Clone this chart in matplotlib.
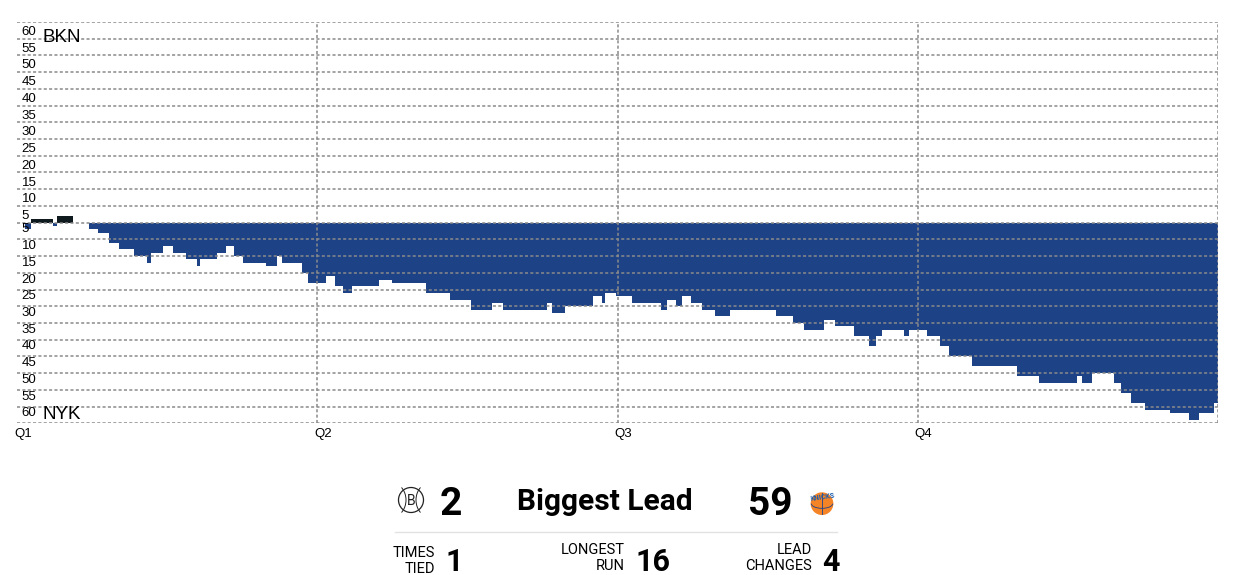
import matplotlib
matplotlib.use("Agg")
import matplotlib.pyplot as plt
from matplotlib.patches import Circle, Arc
import numpy as np

# game clock (minutes elapsed) where the margin changes, and the margin from then on
# positive = BKN lead, negative = NYK lead
minutes = [0, 0.32, 0.56, 1.43, 1.59, 2.23, 2.88, 3.25, 3.69, 4.09, 4.68,
           5.21, 5.34, 5.82, 6.22, 6.75, 7.18, 7.31, 7.99, 8.35, 8.67,
           9.03, 9.95, 10.39, 10.58, 11.39, 11.63, 12.35, 12.71, 13.03, 13.39,
           14.47, 14.99, 16.35, 17.31, 18.15, 18.98, 19.42, 21.18, 21.38, 21.90,
           23.02, 23.38, 23.50, 23.94, 24.58, 25.74, 25.98, 26.34, 26.58, 26.94,
           27.38, 27.90, 28.50, 30.34, 31.02, 31.45, 32.25, 32.69, 33.45, 34.05,
           34.33, 34.57, 35.45, 35.65, 36.37, 36.89, 37.25, 38.17, 39.97, 40.85,
           42.37, 42.57, 42.97, 43.84, 44.12, 44.52, 45.08, 46.08, 46.84, 47.24,
           47.84, 48.0]
margin = [0, -2, 1, -1, 2, 0, -2, -3, -6, -8, -10,
          -12, -9, -7, -9, -11, -13, -11, -9, -7, -10,
          -12, -13, -10, -12, -15, -18, -16, -19, -21, -19,
          -17, -18, -21, -23, -26, -24, -26, -24, -27, -25,
          -22, -24, -21, -22, -24, -26, -23, -25, -22, -24,
          -26, -28, -26, -28, -30, -32, -29, -31, -34, -37,
          -34, -32, -34, -32, -34, -37, -40, -43, -46, -48,
          -46, -48, -45, -48, -51, -54, -56, -57, -59, -57,
          -54, -54]

teams = ['BKN', 'NYK']
quarters = ['Q1', 'Q2', 'Q3', 'Q4']
quarter_start = [0, 12, 24, 36]
y_ticks = [5, 10, 15, 20, 25, 30, 35, 40, 45, 50, 55, 60]

biggest_lead = [2, 59]
times_tied = 1
longest_run = 16
lead_changes = 4

BLUE = '#1e4286'
DARK = '#0e1a1e'
GRID = '#8a8a8a'

W, H = 1235, 575
fig = plt.figure(figsize=(W / 100, H / 100), dpi=100)


def fx(x):
    return x / W


def fy(y):
    return 1 - y / H


ax = fig.add_axes([fx(17), fy(423.3), fx(1218) - fx(17), fy(22) - fy(423.3)])
t = np.array(minutes)
m = np.array(margin)
ax.fill_between(t, np.maximum(m, 0), 0, step='post', color=DARK, lw=0, zorder=1)
ax.fill_between(t, np.minimum(m, 0), 0, step='post', color=BLUE, lw=0, zorder=1)
ax.set_xlim(0, 48)
ax.set_ylim(-60, 60)
for s in ax.spines.values():
    s.set_visible(False)
ax.set_xticks([])
ax.set_yticks([])

dash = (0, (2.0, 1.5))
for v in range(-60, 61, 5):
    ax.axhline(v, color=GRID, lw=1.1, ls=dash, zorder=3)
for q in quarter_start[1:] + [48]:
    ax.axvline(q, color=GRID, lw=1.1, ls=dash, zorder=3)

ytr = ax.get_yaxis_transform()
for v in y_ticks:
    ax.text(0.004, v - 3, str(v), transform=ytr, fontsize=9.5, va='center',
            ha='left', family='Liberation Sans', zorder=4)
    ax.text(0.004, -(v - 3), str(v), transform=ytr, fontsize=9.5, va='center',
            ha='left', family='Liberation Sans', zorder=4)
ax.text(0.021, 55.3, teams[0], transform=ytr, fontsize=13.5, va='center',
        family='Liberation Sans', zorder=4)
ax.text(0.021, -57.3, teams[1], transform=ytr, fontsize=13.5, va='center',
        family='Liberation Sans', zorder=4)

xtr = ax.get_xaxis_transform()
for q, s in zip(quarters, quarter_start):
    ax.text(s - 0.12, -0.012, q, transform=xtr, fontsize=9.5, va='top', ha='left',
            family='Liberation Sans')

# summary panel
RB = 'Roboto'
fig.text(fx(605), fy(510), 'Biggest Lead', ha='center', va='baseline',
         fontsize=21.5, weight='bold', family=RB)
fig.text(fx(440), fy(515), str(biggest_lead[0]), ha='left', va='baseline',
         fontsize=28, weight='bold', family=RB)
fig.text(fx(793), fy(515), str(biggest_lead[1]), ha='right', va='baseline',
         fontsize=28, weight='bold', family=RB)
fig.add_artist(plt.Line2D([fx(395), fx(837)], [fy(531.5), fy(531.5)],
                          color='#e2e2e2', lw=1))

stats = [('TIMES', 'TIED', times_tied, 435, 445, 557, 573),
         ('LONGEST', 'RUN', longest_run, 625, 635, 554, 570),
         ('LEAD', 'CHANGES', lead_changes, 812, 822, 554, 570)]
for top, bot, val, xr, xv, b1, b2 in stats:
    fig.text(fx(xr), fy(b1), top, ha='right', va='baseline', fontsize=10.5, family=RB)
    fig.text(fx(xr), fy(b2), bot, ha='right', va='baseline', fontsize=10.5, family=RB)
    fig.text(fx(xv), fy(571), str(val), ha='left', va='baseline', fontsize=22,
             weight='bold', family=RB)

# team logos
lg1 = fig.add_axes([fx(396), fy(515), 30 / W, 30 / H])
lg1.set_xlim(-1.2, 1.2)
lg1.set_ylim(-1.2, 1.2)
lg1.set_aspect('equal')
lg1.axis('off')
lg1.add_patch(Circle((0, 0), 1.0, fill=False, ec='#222222', lw=0.9))
lg1.add_patch(Arc((-1.6, 0), 2.4, 2.8, theta1=-50, theta2=50, ec='#222222', lw=0.7))
lg1.add_patch(Arc((1.6, 0), 2.4, 2.8, theta1=130, theta2=230, ec='#222222', lw=0.7))
lg1.text(0, -0.05, 'B', ha='center', va='center', fontsize=10, family=RB, color='#222222')

lg2 = fig.add_axes([fx(806), fy(517), 32 / W, 32 / H])
lg2.set_xlim(-1.2, 1.2)
lg2.set_ylim(-1.2, 1.2)
lg2.set_aspect('equal')
lg2.axis('off')
lg2.add_patch(Circle((0, -0.2), 0.8, color='#f58426'))
lg2.add_patch(Arc((0, -0.2), 1.6, 0.7, theta1=180, theta2=360, ec='#1d428a', lw=0.6))
lg2.plot([0, 0], [-1.0, 0.6], color='#1d428a', lw=0.6)
lg2.text(0, 0.3, 'KNICKS', ha='center', va='center', fontsize=5, weight='bold',
         family=RB, color='#1d5fae', rotation=8)

fig.savefig('out.png', dpi=100)
